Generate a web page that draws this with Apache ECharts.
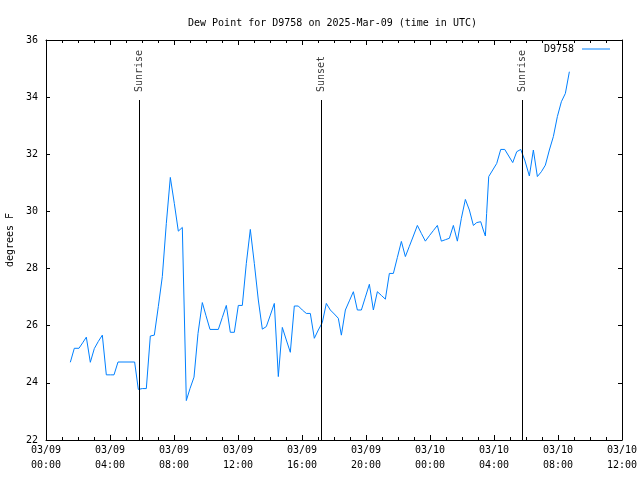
<!DOCTYPE html>
<html><head><meta charset="utf-8">
<script src="https://cdn.jsdelivr.net/npm/echarts@6/dist/echarts.min.js"></script>
<style>html,body{margin:0;padding:0;background:#fff}#c{width:640px;height:480px}</style>
</head><body><div id="c"></div>
<script>
// hours since 2025-03-09 00:00 UTC
const obsHours = [1.52,1.77,2.06,2.29,2.52,2.77,3.02,3.27,3.52,3.77,4.02,4.25,4.50,4.75,5.00,5.25,5.54,5.77,6.02,6.27,
  6.52,6.77,7.02,7.27,7.52,7.77,8.02,8.27,8.52,8.77,9.00,9.25,9.50,9.77,10.00,10.25,10.50,10.77,11.02,11.27,
  11.52,11.77,12.02,12.27,12.52,12.77,13.02,13.27,13.52,13.77,14.02,14.27,14.52,14.77,15.02,15.27,15.52,15.77,16.02,16.27,
  16.52,16.77,17.02,17.27,17.52,17.77,18.02,18.27,18.46,18.71,18.96,19.21,19.46,19.71,19.96,20.21,20.46,20.71,20.96,21.21,
  21.46,21.71,21.96,22.21,22.46,22.71,22.96,23.21,23.46,23.71,23.96,24.21,24.46,24.71,24.96,25.21,25.46,25.71,25.96,26.21,
  26.46,26.71,26.92,27.17,27.33,27.46,27.54,27.67,27.92,28.17,28.42,28.67,28.92,29.17,29.42,29.67,29.92,30.21,30.46,30.71,
  30.96,31.21,31.46,31.71,31.96,32.21,32.46,32.71];
const dewPoint = [24.72,25.21,25.21,25.40,25.60,24.72,25.20,25.45,25.67,24.28,24.28,24.28,24.73,24.73,24.73,24.73,24.73,23.77,23.80,23.80,
  25.64,25.67,26.67,27.72,29.58,31.19,30.28,29.31,29.44,23.38,23.80,24.20,25.73,26.81,26.35,25.87,25.87,25.87,26.29,26.71,
  25.77,25.77,26.71,26.71,28.18,29.37,28.18,26.90,25.88,25.97,26.37,26.78,24.22,25.94,25.50,25.07,26.69,26.69,26.55,26.43,
  26.43,25.56,25.85,26.11,26.78,26.55,26.41,26.26,25.67,26.55,26.87,27.19,26.55,26.55,27.00,27.45,26.55,27.19,27.06,26.93,
  27.83,27.83,28.39,28.95,28.42,28.78,29.14,29.51,29.23,28.96,29.15,29.33,29.51,28.96,29.01,29.06,29.51,28.96,29.76,30.42,
  30.05,29.51,29.61,29.64,29.35,29.14,29.93,31.22,31.45,31.68,32.17,32.17,31.94,31.71,32.09,32.17,31.80,31.24,32.15,31.22,
  31.39,31.62,32.15,32.62,33.32,33.84,34.13,34.89];
const sunHours = [5.83, 17.19, 29.79];
const sunLabels = ['Sunrise', 'Sunset', 'Sunrise'];
const seriesName = 'D9758';
const titleText = 'Dew Point for D9758 on 2025-Mar-09 (time in UTC)';
const yAxisTitle = 'degrees F';

const FONT = 'DejaVu Sans Mono';
const pad = n => (n < 10 ? '0' : '') + n;
const xFmt = v => { const d = 9 + Math.floor(v / 24); const h = v % 24; return '03/' + pad(d) + '\n' + pad(h) + ':00'; };

const chart = echarts.init(document.getElementById('c'), null, {renderer: 'canvas'});
const txt = {fontFamily: FONT, fontSize: 10, color: '#000'};
const xBase = {
  type: 'value', min: 0, max: 36, interval: 4,
  axisLine: {show: true, onZero: false, lineStyle: {color: '#000', width: 1}},
  axisTick: {show: true, inside: true, length: 5, lineStyle: {color: '#000'}},
  minorTick: {show: true, splitNumber: 4, length: 3, lineStyle: {color: '#000'}},
  splitLine: {show: false}
};
const yBase = {
  type: 'value', min: 22, max: 36, interval: 2,
  axisLine: {show: true, onZero: false, lineStyle: {color: '#000', width: 1}},
  axisTick: {show: true, inside: true, length: 4, lineStyle: {color: '#000'}},
  splitLine: {show: false}
};
chart.setOption({
  animation: false,
  backgroundColor: '#fff',
  title: {text: titleText, left: 183, top: 13, textStyle: Object.assign({fontWeight: 'normal'}, txt)},
  grid: {left: 46, right: 18, top: 40, bottom: 40, containLabel: false, outerBoundsMode: 'none'},
  legend: {
    data: [{name: seriesName, icon: 'path://M0 0H28V1H0Z'}], right: 25, top: 39, align: 'right',
    itemWidth: 28, itemHeight: 1, itemGap: 0,
    textStyle: Object.assign({padding: [0, 3, 0, 0]}, txt), selectedMode: false
  },
  xAxis: [
    Object.assign({}, xBase, {position: 'bottom', axisLabel: Object.assign({formatter: xFmt, lineHeight: 15, margin: 3, showMinLabel: true, showMaxLabel: true}, txt)}),
    Object.assign({}, xBase, {position: 'top', axisLabel: {show: false}})
  ],
  yAxis: [
    Object.assign({}, yBase, {position: 'left', axisLabel: Object.assign({margin: 8}, txt),
      name: yAxisTitle, nameLocation: 'middle', nameGap: 31, nameRotate: 90, nameTextStyle: txt}),
    Object.assign({}, yBase, {position: 'right', axisLabel: {show: false}})
  ],
  series: [
    {
      name: seriesName, type: 'line', xAxisIndex: 0, yAxisIndex: 0,
      data: obsHours.map((h, i) => [h, dewPoint[i]]),
      symbol: 'none', showSymbol: false,
      lineStyle: {color: '#0080ff', width: 1}, itemStyle: {color: '#0080ff'},
      markLine: {
        silent: true, symbol: ['none', 'none'], label: {show: false},
        lineStyle: {color: '#000', width: 1, type: 'solid'},
        emphasis: {disabled: true},
        data: sunHours.map(h => [{coord: [h, 22]}, {coord: [h, 33.9]}])
      }
    },
    {
      name: 'sun', type: 'scatter', xAxisIndex: 0, yAxisIndex: 0,
      data: sunHours.map(h => [h, 34.18]),
      symbolSize: 2, itemStyle: {color: 'rgba(0,0,0,0)'}, silent: true,
      label: Object.assign({show: true, formatter: p => sunLabels[p.dataIndex], position: 'inside', rotate: 90, align: 'left', verticalAlign: 'middle'}, txt),
      labelLayout: {hideOverlap: false}
    }
  ]
});
</script></body></html>
